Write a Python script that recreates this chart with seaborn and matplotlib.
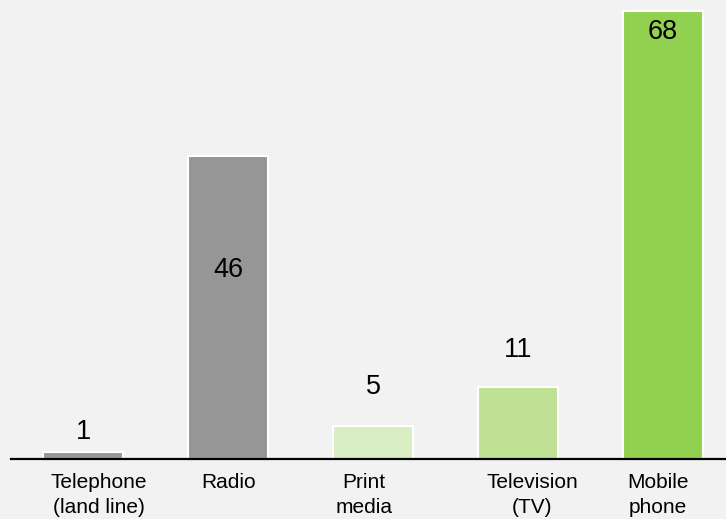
import matplotlib
matplotlib.use("Agg")
import matplotlib.pyplot as plt
import matplotlib.transforms as mtransforms
import seaborn as sns
import pandas as pd

categories = ["Telephone\n(land line)", "Radio", "Print\nmedia", "Television\n(TV)", "Mobile\nphone"]
values = [1, 46, 5, 11, 68]
colors = ["#999999", "#969696", "#d9eec2", "#bfe194", "#92d050"]

# where each value label sits, in data units above the baseline
label_y = [4.1, 28.7, 10.9, 16.5, 64.8]
# small horizontal nudges (pixels) for the category labels
label_dx = [16, 0, -9, 14, -5]

sns.set_theme(style="white")
plt.rcParams["font.family"] = ["Liberation Sans", "DejaVu Sans"]

bg = "#f2f2f2"
fig = plt.figure(figsize=(7.26, 5.19), dpi=100, facecolor=bg)
ax = fig.add_axes([11 / 726, 1 - 459 / 519, 1 - 11 / 726, 459 / 519])
ax.set_facecolor(bg)

df = pd.DataFrame({"cat": categories, "val": values})
sns.barplot(data=df, x="cat", y="val", hue="cat", palette=colors, legend=False,
            width=0.55, edgecolor="white", linewidth=1.5, saturation=1, ax=ax)

ax.set_xlim(-0.497, 4.434)
ax.set_ylim(0, 69.67)

for i, (v, y) in enumerate(zip(values, label_y)):
    ax.text(i, y, str(v), ha="center", va="center", fontsize=19.5, color="black")

ax.set_xlabel("")
ax.set_ylabel("")
ax.set_yticks([])
ax.tick_params(axis="x", length=0, pad=10, labelsize=15, labelcolor="#000000")
for lbl, dx in zip(ax.get_xticklabels(), label_dx):
    lbl.set_multialignment("center")
    lbl.set_linespacing(1.38)
    lbl.set_transform(lbl.get_transform() + mtransforms.ScaledTranslation(dx / 100, 0, fig.dpi_scale_trans))

for s in ["top", "right", "left"]:
    ax.spines[s].set_visible(False)
ax.spines["bottom"].set_color("black")
ax.spines["bottom"].set_linewidth(1.6)

fig.savefig("out.png", dpi=100, facecolor=bg)
